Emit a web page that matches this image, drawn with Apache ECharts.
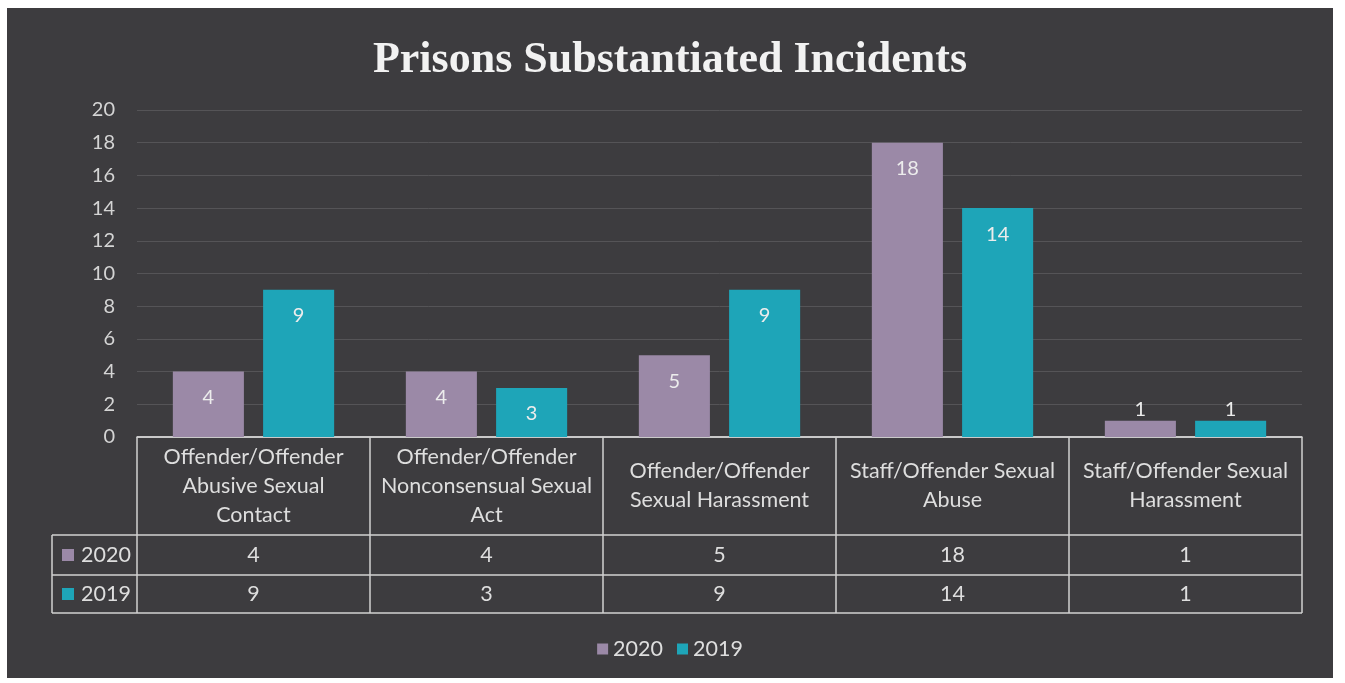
<!DOCTYPE html>
<html>
<head>
<meta charset="utf-8">
<script src="https://cdn.jsdelivr.net/npm/echarts@6/dist/echarts.min.js"></script>
<style>
  html, body { margin: 0; padding: 0; background: #ffffff; width: 1345px; height: 683px; overflow: hidden; }
  #panel { position: absolute; left: 7px; top: 8px; width: 1326px; height: 670px; background: #3d3c3f; }
</style>
</head>
<body>
<div id="panel"></div>
<script>
// ---- data ----
const title = 'Prisons Substantiated Incidents';
const categories = [
  'Offender/Offender Abusive Sexual Contact',
  'Offender/Offender Nonconsensual Sexual Act',
  'Offender/Offender Sexual Harassment',
  'Staff/Offender Sexual Abuse',
  'Staff/Offender Sexual Harassment'
];
const seriesNames = ['2020', '2019'];
const values2020 = [4, 4, 5, 18, 1];
const values2019 = [9, 3, 9, 14, 1];
const yMin = 0, yMax = 20, yStep = 2;

// ---- style ----
const colors = ['#9b89a7', '#1ea5b8'];
const textColor = '#dedede';
const lineColor = '#d2d2d2';
const font = 'Lato, "Open Sans", sans-serif';
const tableFont = 21.5;

function wrap(s, maxChars) {
  const words = s.split(' ');
  const lines = [];
  let cur = '';
  words.forEach(w => {
    if (cur && (cur + ' ' + w).length > maxChars) { lines.push(cur); cur = w; }
    else cur = cur ? cur + ' ' + w : w;
  });
  if (cur) lines.push(cur);
  return lines.join('\n');
}

function barData(vals) {
  return vals.map(v => v <= 1
    ? { value: v, label: { position: 'top', distance: 1 } }
    : { value: v });
}

const chart = echarts.init(document.getElementById('panel'), null, { renderer: 'canvas' });

const option = {
  backgroundColor: 'transparent',
  animation: false,
  title: {
    text: title,
    left: 'center',
    top: 26,
    textStyle: { fontFamily: '"Liberation Serif", "DejaVu Serif", serif', fontWeight: 'bold', fontSize: 44, color: '#f2f2f2' }
  },
  legend: {
    data: seriesNames,
    bottom: 13,
    left: 'center',
    icon: 'rect',
    itemWidth: 11,
    itemHeight: 11,
    itemGap: 14,
    textStyle: { color: textColor, fontSize: 21.5, fontFamily: font }
  },
  grid: { left: 130, right: 31, top: 102, bottom: 241, containLabel: false },
  xAxis: {
    type: 'category',
    data: categories,
    axisLine: { show: true, lineStyle: { color: lineColor, width: 1.5 } },
    axisTick: { show: false },
    axisLabel: {
      interval: 0,
      margin: 49,
      verticalAlign: 'middle',
      lineHeight: 29,
      color: textColor,
      fontSize: tableFont,
      fontFamily: font,
      formatter: v => wrap(v, 21)
    }
  },
  yAxis: {
    type: 'value',
    min: yMin, max: yMax, interval: yStep,
    axisLine: { show: false },
    axisTick: { show: false },
    axisLabel: { color: '#d4d4d4', fontSize: 20, fontFamily: font, margin: 22 },
    splitLine: { lineStyle: { color: '#555457', width: 1 } }
  },
  series: [
    {
      name: seriesNames[0], type: 'bar', data: barData(values2020),
      barWidth: '30.5%', barGap: '27%',
      itemStyle: { color: colors[0] },
      label: { show: true, position: 'insideTop', distance: 16, color: '#ececec', fontSize: 20, fontFamily: font }
    },
    {
      name: seriesNames[1], type: 'bar', data: barData(values2019),
      barWidth: '30.5%', barGap: '27%',
      itemStyle: { color: colors[1] },
      label: { show: true, position: 'insideTop', distance: 16, color: '#ececec', fontSize: 20, fontFamily: font }
    }
  ]
};
chart.setOption(option);

// ---- data table drawn from the data, positioned through the axes ----
const c0 = chart.convertToPixel({ xAxisIndex: 0 }, categories[0]);
const c1 = chart.convertToPixel({ xAxisIndex: 0 }, categories[1]);
const band = c1 - c0;
const tableLeft = c0 - band / 2;
const tableRight = tableLeft + band * categories.length;
const yTop = chart.convertToPixel({ yAxisIndex: 0 }, yMin);
const rows = [yTop, yTop + 98, yTop + 138, yTop + 176];
const headLeft = 45;
const rowValues = [values2020, values2019];

const els = [];
function hline(y, x1, x2) {
  els.push({ type: 'line', shape: { x1: x1, y1: y, x2: x2, y2: y }, style: { stroke: lineColor, lineWidth: 1.5 }, silent: true });
}
function vline(x, y1, y2) {
  els.push({ type: 'line', shape: { x1: x, y1: y1, x2: x, y2: y2 }, style: { stroke: lineColor, lineWidth: 1.5 }, silent: true });
}
hline(rows[0], tableLeft, tableRight);
for (let r = 1; r < rows.length; r++) hline(rows[r], headLeft, tableRight);
for (let i = 0; i <= categories.length; i++) vline(tableLeft + band * i, rows[0], rows[3]);
vline(headLeft, rows[1], rows[3]);

rowValues.forEach((vals, r) => {
  const yMid = (rows[r + 1] + rows[r + 2]) / 2;
  els.push({ type: 'rect', shape: { x: headLeft + 10, y: yMid - 6, width: 12, height: 12 }, style: { fill: colors[r] }, silent: true });
  els.push({ type: 'text', x: headLeft + 29, y: yMid, style: { text: seriesNames[r], fill: textColor, fontSize: tableFont, fontFamily: font, verticalAlign: 'middle', align: 'left' }, silent: true });
  vals.forEach((v, i) => {
    els.push({ type: 'text', x: tableLeft + band * (i + 0.5), y: yMid, style: { text: String(v), fill: textColor, fontSize: tableFont, fontFamily: font, verticalAlign: 'middle', align: 'center' }, silent: true });
  });
});

chart.setOption({ graphic: { elements: els } });
</script>
</body>
</html>
